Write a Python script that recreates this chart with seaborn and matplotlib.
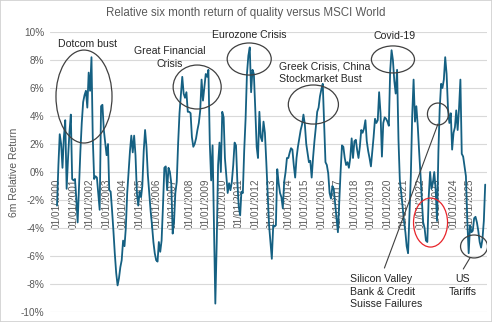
import numpy as np
import pandas as pd
import matplotlib
matplotlib.use("Agg")
import matplotlib.pyplot as plt
import matplotlib.dates as mdates
from matplotlib.patches import Ellipse, Rectangle
import seaborn as sns

# ---- data: monthly 6m relative return (%) ----
y2000 = [-2.4, 0.5, 2.7, 2.0, 0.3, 2.5, 3.7, -1.2, 1.0, 2.8, 4.1, -0.5]
y2001 = [-0.6, -0.5, -1.8, -3.6, -1.0, 1.5, 3.5, 5.0, 5.5, 5.8, 4.6, 7.1]
y2002 = [5.8, 8.2, 2.5, -0.5, -0.3, -0.4, -1.5, -2.7, 4.7, 4.8, 3.0, 2.1]
y2003 = [1.2, 2.0, -1.3, -1.4, -2.7, -4.2, -5.8, -7.2, -8.1, -7.6, -6.8, -6.3]
y2004 = [-4.9, -5.3, -4.0, -1.5, 0.0, 1.5, 2.6, 1.4, 2.6, 1.2, -1.5, -2.4]
y2005 = [-1.4, -1.8, -1.0, 1.5, 3.0, 1.8, -0.2, -1.5, -2.8, -3.8, -5.0, -5.8]
y2006 = [-6.3, -6.4, -5.0, -5.7, -4.9, -2.4, 0.3, 0.4, -1.3, 0.3, 0.0, -0.8]
y2007 = [-4.4, -3.5, -1.5, -0.7, 2.0, 4.2, 5.5, 6.8, 5.6, 5.3, 5.7, 4.3]
y2008 = [4.3, 4.2, 2.5, 1.8, 2.0, 2.4, 3.0, 3.5, 4.4, 6.6, 5.1, 6.0]
y2009 = [7.0, 6.8, 7.3, 2.0, -0.6, 1.9, -3.8, -9.4, -5.0, 0.5, 2.1, 0.0]
y2010 = [4.3, 3.9, 1.0, -0.3, -1.5, -0.8, -1.3, -0.7, 0.5, 2.1, 1.9, -0.7]
y2011 = [-2.5, -3.1, -1.4, -1.5, 1.5, 3.8, 7.0, 8.3, 8.9, 5.7, 7.3, 7.0]
y2012 = [4.5, 1.8, 1.0, 4.3, 2.5, 2.2, 3.6, 2.8, 0.7, -1.5, -3.8, -5.0]
y2013 = [-6.2, -3.8, -3.9, -3.8, 0.2, -0.8, -1.5, -1.8, -2.6, -0.7, 0.0, 1.0]
y2014 = [1.0, 1.4, 1.7, 1.6, 0.5, -0.4, 1.0, 1.8, 2.4, 3.0, 3.4, 4.1]
y2015 = [3.4, 2.0, 1.4, 0.7, 0.8, -0.4, 1.0, 2.2, 3.2, 4.3, 4.6, 5.4]
y2016 = [5.9, 6.3, 3.5, 0.7, 0.5, -0.1, -1.5, -1.9, -1.0, -1.2, -2.3, -3.3]
y2017 = [-4.3, -2.0, 0.0, 1.9, 1.8, 1.0, 0.5, 0.7, 0.3, 1.0, 2.4, 1.0]
y2018 = [2.2, 2.3, 1.6, 1.0, 1.8, 3.0, 2.8, 3.1, 3.7, 2.2, 1.5, 1.0]
y2019 = [0.4, 1.5, 2.5, 3.8, 3.5, 3.7, 5.7, 4.2, 1.1, 3.5, 3.9, 3.8]
y2020 = [3.6, 3.3, 7.2, 8.7, 8.0, 6.5, 5.6, 7.3, 2.3, -0.6, -1.5, -2.5]
y2021 = [-3.5, -4.3, -5.3, -5.8, -3.0, -0.3, 4.0, 6.6, 3.6, 4.7, 3.3, 1.5]
y2022 = [-0.2, -2.1, -3.6, -4.0, -4.9, -5.0, -1.8, 0.0, -1.2, -0.8, 0.0, -1.2]
y2023 = [-3.5, 1.5, 4.5, 6.3, 6.0, 6.6, 8.2, 7.0, 4.5, 3.5, 4.2, 1.6]
y2024 = [2.8, 3.2, 4.4, 3.0, 4.5, 6.6, 1.3, 1.1, 0.4, -0.3, -3.5, -5.8]
y2025 = [-3.8, -4.3, -4.2, -3.3, -3.2, -3.6, -4.2, -5.0, -5.4, -4.8, -3.5, -0.9]

values = (y2000 + y2001 + y2002 + y2003 + y2004 + y2005 + y2006 + y2007 + y2008
          + y2009 + y2010 + y2011 + y2012 + y2013 + y2014 + y2015 + y2016 + y2017
          + y2018 + y2019 + y2020 + y2021 + y2022 + y2023 + y2024 + y2025)
dates = pd.date_range("2000-01-01", periods=len(values), freq="MS")
tick_years = list(range(2000, 2026))
tick_labels = [f"01/01/{y}" for y in tick_years]
y_ticks = list(range(-10, 11, 2))
y_tick_labels = [f"{v}%" for v in y_ticks]

df = pd.DataFrame({"date": dates, "ret": values})

# ---- style ----
sns.set_style("white")
plt.rcParams["font.family"] = ["Liberation Sans", "DejaVu Sans"]

GREY = "#595959"
LINE = "#156082"
TXT = "#262626"

fig = plt.figure(figsize=(4.92, 3.22), dpi=100)
ax = fig.add_axes([50 / 492, 10 / 322, 437 / 492, 280 / 322])

sns.lineplot(data=df, x="date", y="ret", ax=ax, color=LINE, linewidth=1.3)

ax.set_ylim(-10, 10)
ax.set_xlim(pd.Timestamp("2000-01-01") - pd.Timedelta(days=155),
            pd.Timestamp("2025-12-01") + pd.Timedelta(days=40))
ax.spines["bottom"].set_position(("data", 0))
for s in ax.spines.values():
    s.set_visible(False)
ax.set_yticks(y_ticks)
ax.set_yticklabels(y_tick_labels)
ax.set_xticks([pd.Timestamp(f"{y}-01-01") for y in tick_years])
ax.set_xticklabels(tick_labels)
ax.tick_params(axis="both", length=0, colors=GREY, labelsize=7.2)
ax.tick_params(axis="y", pad=4)
ax.tick_params(axis="x", pad=4.5, labelrotation=90)
ax.yaxis.grid(True, color="#d9d9d9", linewidth=0.8)
ax.set_axisbelow(True)
ax.set_xlabel("")
ax.set_ylabel("")

fig.text(14 / 492, 1 - 172 / 322, "6m Relative Return", rotation=90,
         ha="center", va="center", color=GREY, fontsize=7.5)
fig.text(0.5, 1 - 13 / 322, "Relative six month return of quality versus MSCI World",
         ha="center", va="center", color=GREY, fontsize=8.3)

# ---- annotations (positions in month index from Jan 2000 / value) ----
base = pd.Timestamp("2000-01-01")
def xd(m):
    return mdates.date2num(base + pd.Timedelta(days=m * 30.4375))
def wd(months):
    return months * 30.4375

ellipses = [
    (19.6, 5.39, 40.7, 6.64, "#404040"),
    (101.8, 6.07, 34.9, 3.14, "#404040"),
    (139.6, 8.07, 32.0, 2.29, "#404040"),
    (186.2, 4.82, 36.4, 2.79, "#404040"),
    (244.0, 8.04, 31.3, 1.93, "#404040"),
    (276.7, 4.14, 15.3, 1.57, "#404040"),
    (271.3, -3.61, 24.7, 3.50, "#e8242a"),
    (302.9, -5.32, 19.6, 1.64, "#404040"),
]
for cm, cv, w, h, col in ellipses:
    ax.add_patch(Ellipse((xd(cm), cv), wd(w), h, fill=False,
                         edgecolor=col, linewidth=0.9, zorder=5))

ax.plot([xd(237.8), xd(276.7)], [-6.86, 3.43], color="#404040", lw=0.8, zorder=5)
ax.plot([xd(295.1), xd(299.9)], [-6.93, -6.14], color="#404040", lw=0.8, zorder=5)

fs = 7.6
ax.text(xd(22.0), 9.14, "Dotcom bust", ha="center", va="center", color=TXT, fontsize=fs)
ax.text(xd(82.2), 8.18, "Great Financial\nCrisis", ha="center", va="center",
        color=TXT, fontsize=fs, linespacing=1.3)
ax.text(xd(139.6), 9.79, "Eurozone Crisis", ha="center", va="center", color=TXT, fontsize=fs)
ax.text(xd(161.5), 7.1, "Greek Crisis, China\nStockmarket Bust", ha="left", va="center",
        color=TXT, fontsize=fs, linespacing=1.3)
ax.text(xd(245.0), 9.71, "Covid-19", ha="center", va="center", color=TXT, fontsize=fs)
ax.text(xd(213.1), -8.54, "Silicon Valley\nBank & Credit\nSuisse Failures", ha="left",
        va="center", color=TXT, fontsize=fs, linespacing=1.35)
ax.text(xd(294.9), -8.1, "US\nTariffs", ha="center", va="center", color=TXT,
        fontsize=fs, linespacing=1.35)

fig.patches.append(Rectangle((0, 0), 1, 1, transform=fig.transFigure, fill=False,
                             edgecolor="#d0d0d0", linewidth=1.2))

fig.savefig("out.png", dpi=100)
